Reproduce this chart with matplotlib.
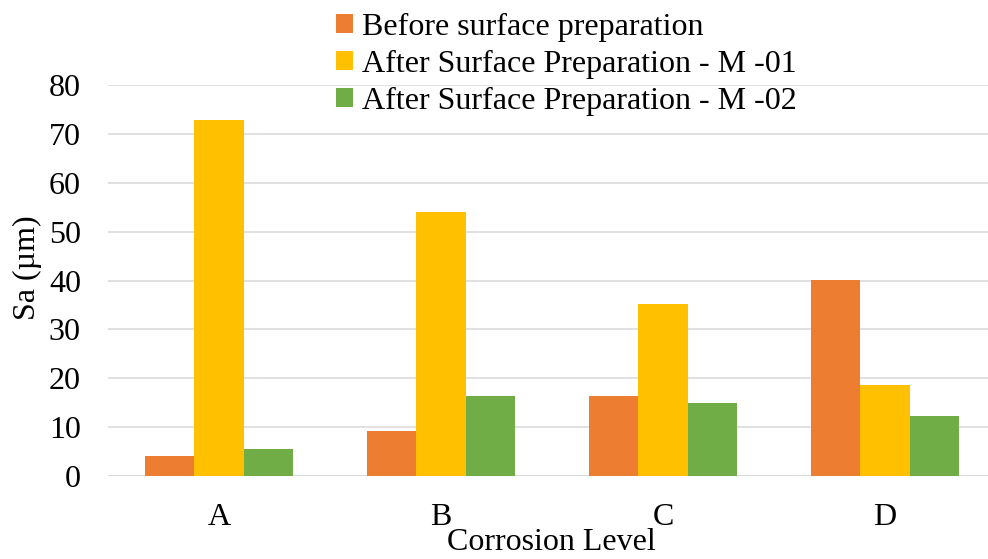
import matplotlib
matplotlib.use("Agg")
import matplotlib.pyplot as plt
from matplotlib.patches import Patch
import numpy as np

plt.rcParams['font.family'] = ['Liberation Serif', 'DejaVu Serif']

categories = ["A", "B", "C", "D"]
series_names = ["Before surface preparation",
                "After Surface Preparation - M -01",
                "After Surface Preparation - M -02"]
before = [4.0, 9.2, 16.4, 40.2]
after_m01 = [72.8, 54.0, 35.2, 18.5]
after_m02 = [5.5, 16.4, 14.8, 12.2]
colors = ["#ED7D31", "#FFC000", "#70AD47"]
y_ticks = [0, 10, 20, 30, 40, 50, 60, 70, 80]

FS = 23
W, H = 988, 559
fig = plt.figure(figsize=(W / 100, H / 100), dpi=100)
ax = fig.add_axes([108 / W, 1 - 475.7 / H, (996 - 108) / W, (475.7 - 85.3) / H])

x = np.arange(len(categories))
bw = 0.222
for i, (vals, c) in enumerate(zip([before, after_m01, after_m02], colors)):
    ax.bar(x + (i - 1) * bw, vals, width=bw, color=c, zorder=3, linewidth=0)

ax.set_xlim(-0.5, 3.5)
ax.set_ylim(0, 80)
ax.set_yticks(y_ticks)
ax.set_xticks(x)
ax.set_xticklabels(categories)
ax.grid(axis='y', color='#D9D9D9', linewidth=1.1, zorder=0)
for s in ax.spines.values():
    s.set_visible(False)
ax.axhline(0, color='#D9D9D9', linewidth=1.3, zorder=1)
ax.tick_params(axis='both', length=0, labelsize=FS)
ax.tick_params(axis='y', pad=19.5)
ax.tick_params(axis='x', pad=20)

fig.text(27 / W, 1 - 268 / H, "Sa (\u00b5m)", rotation=90, fontsize=FS,
         ha='center', va='center')
fig.text(551 / W, 2 / H, "Corrosion Level", fontsize=FS,
         ha='center', va='bottom')

handles = [Patch(facecolor=c, edgecolor='none') for c in colors]
fig.legend(handles, series_names, loc='upper left',
           bbox_to_anchor=(336 / W, 1 - 13 / H), frameon=False, fontsize=FS,
           handlelength=0.52, handleheight=0.52, handletextpad=0.3,
           labelspacing=0.25, borderpad=0, borderaxespad=0)

fig.savefig("out.png", dpi=100)
